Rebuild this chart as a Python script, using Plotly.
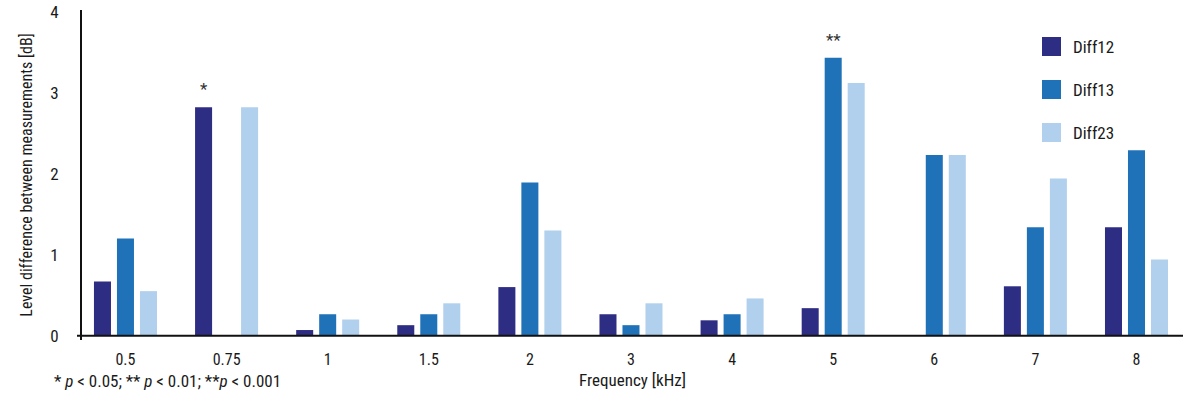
import plotly.graph_objects as go

# ---- data ----
categories = ["0.5", "0.75", "1", "1.5", "2", "3", "4", "5", "6", "7", "8"]
series_names = ["Diff12", "Diff13", "Diff23"]
diff12 = [0.67, 2.82, 0.07, 0.13, 0.60, 0.265, 0.19, 0.34, 0.0, 0.61, 1.34]
diff13 = [1.20, 0.0, 0.265, 0.265, 1.89, 0.13, 0.265, 3.43, 2.23, 1.34, 2.29]
diff23 = [0.55, 2.82, 0.20, 0.40, 1.30, 0.40, 0.46, 3.12, 2.23, 1.94, 0.94]
y_ticks = [0, 1, 2, 3, 4]
# significance markers: (category, series, label)
significance = [("0.75", "Diff12", "*"), ("5", "Diff13", "**")]
footnote = "* <i>p</i> &lt; 0.05; ** <i>p</i> &lt; 0.01; **<i>p</i> &lt; 0.001"
x_title = "Frequency [kHz]"
y_title = "Level difference between measurements [dB]"

# ---- style ----
colors = ["#2E2D84", "#1F72B8", "#B0D0EE"]
FONT = "Liberation Sans Narrow, Roboto Condensed, Arial Narrow, Roboto, sans-serif"
TXT = "#1a1a1a"
W, H = 1184, 396
ML, MR, MT, MB = 82, 1, 10, 56
BARGAP = 0.3175
BARGROUPGAP = 0.26
X_RANGE = [-0.43, 10.46]
Y_RANGE = [-0.053, 4.02]

values = [diff12, diff13, diff23]
idx = list(range(len(categories)))

fig = go.Figure()
for name, vals, col in zip(series_names, values, colors):
    fig.add_trace(go.Bar(x=idx, y=vals, name=name, marker=dict(color=col, line=dict(width=0)),
                         showlegend=False, hoverinfo="skip"))

plot_w = W - ML - MR
plot_h = H - MT - MB

# significance annotations
slot = (1 - BARGAP) / len(series_names)
for cat, ser, lab in significance:
    i = categories.index(cat)
    s = series_names.index(ser)
    xpos = i + (s - (len(series_names) - 1) / 2) * slot
    fig.add_annotation(x=xpos, y=values[s][i], text=lab, showarrow=False,
                       yanchor="bottom", yshift=6,
                       font=dict(family=FONT, size=17, color="#333333"))

# x axis baseline (extends slightly left of y axis)
y0_paper = (0 - Y_RANGE[0]) / (Y_RANGE[1] - Y_RANGE[0])
fig.add_shape(type="line", xref="paper", yref="paper", x0=-5 / plot_w, x1=1,
              y0=y0_paper, y1=y0_paper, line=dict(color="#111111", width=2))

# manual legend
leg_x_px, leg_y_px, leg_step, sq = 1042, 37, 43, 19
for k, (name, col) in enumerate(zip(series_names, colors)):
    top = leg_y_px + k * leg_step
    fig.add_shape(type="rect", xref="paper", yref="paper",
                  x0=(leg_x_px - ML) / plot_w, x1=(leg_x_px + sq - ML) / plot_w,
                  y0=1 - (top + sq - MT) / plot_h, y1=1 - (top - MT) / plot_h,
                  fillcolor=col, line=dict(width=0))
    fig.add_annotation(xref="paper", yref="paper",
                       x=(leg_x_px + sq + 10 - ML) / plot_w,
                       y=1 - (top + sq / 2 - MT) / plot_h,
                       xanchor="left", yanchor="middle", showarrow=False, text=name,
                       font=dict(family=FONT, size=17, color=TXT))

# footnote
fig.add_annotation(xref="paper", yref="paper", x=(52 - ML) / plot_w, y=-(381 - (H - MB)) / plot_h,
                   xanchor="left", yanchor="middle", showarrow=False, text=footnote,
                   font=dict(family=FONT, size=17, color=TXT))

fig.update_layout(
    width=W, height=H,
    margin=dict(l=ML, r=MR, t=MT, b=MB, pad=0, autoexpand=False),
    barmode="group", bargap=BARGAP, bargroupgap=BARGROUPGAP,
    plot_bgcolor="white", paper_bgcolor="white",
    font=dict(family=FONT, size=16, color=TXT),
    showlegend=False,
)
fig.update_xaxes(range=X_RANGE, tickmode="array", tickvals=idx, ticktext=categories,
                 showgrid=False, zeroline=False, showline=False, ticks="", automargin=False,
                 ticklabelstandoff=8, tickfont=dict(size=16),
                 title=dict(text=x_title, standoff=6, font=dict(size=17)))
fig.update_yaxes(range=Y_RANGE, tickvals=y_ticks, showgrid=False, zeroline=False,
                 showline=True, linecolor="#111111", linewidth=2, ticks="", automargin=False,
                 ticklabelstandoff=18, tickfont=dict(size=17),
                 title=dict(text=y_title, standoff=14, font=dict(size=16)))

fig.write_html("out.html", config={"displayModeBar": False},
               post_script="document.body.style.margin='0';document.body.style.overflow='hidden';")
